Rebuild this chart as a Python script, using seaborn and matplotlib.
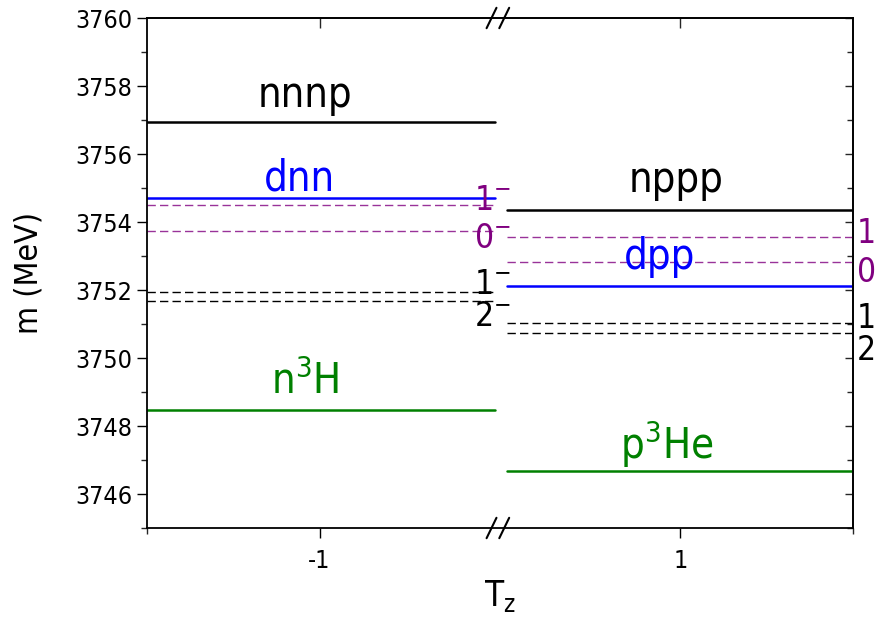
"""
mass levels of the four-nucleon systems, Tz = -1 and Tz = +1
"""
import matplotlib

matplotlib.use("Agg")
import matplotlib.pyplot as plt
import matplotlib.ticker as ticker
import numpy as np
import pandas as pd
import seaborn as sns

# levels (MeV) for each Tz
tz_values = [-1, 1]
state_names_left = ["nnnp", "dnn", "n3H"]
state_mass_left = [3756.94, 3754.70, 3748.48]
state_names_right = ["nppp", "dpp", "p3He"]
state_mass_right = [3754.35, 3752.11, 3746.68]
state_colors = ["black", "#0000ff", "#008000"]

# dashed threshold levels
thr_labels = ["1", "0", "1", "2"]
thr_mass_left = [3754.50, 3753.73, 3751.95, 3751.68]
thr_mass_right = [3753.57, 3752.81, 3751.04, 3750.75]
thr_colors = ["#993399", "#993399", "black", "black"]
thr_text_colors = ["#800080", "#800080", "black", "black"]

y_min, y_max = 3745, 3760

sns.set_theme(style="ticks")
plt.rcParams["font.family"] = ["DejaVu Sans"]
plt.rcParams["font.stretch"] = "condensed"
plt.rcParams["mathtext.fontset"] = "custom"
plt.rcParams["mathtext.rm"] = "DejaVu Sans:stretch=condensed"

HALF = 0.956  # half width of one Tz panel (data units)

# build long-form table of segments
rows = []
for tz, names, masses in [
    (-1, state_names_left, state_mass_left),
    (1, state_names_right, state_mass_right),
]:
    x0, x1 = (tz - HALF, -0.03) if tz < 0 else (0.04, tz + HALF)
    for name, m, c in zip(names, masses, state_colors):
        for x in (x0, x1):
            rows.append(dict(seg=f"{name}", x=x, m=m, kind="state", color=c))
for tz, masses in [(-1, thr_mass_left), (1, thr_mass_right)]:
    x0, x1 = (tz - HALF, -0.03) if tz < 0 else (0.04, tz + HALF)
    for i, (m, c) in enumerate(zip(masses, thr_colors)):
        for x in (x0, x1):
            rows.append(dict(seg=f"thr{tz}_{i}", x=x, m=m, kind="thr", color=c))
df = pd.DataFrame(rows)
palette = dict(zip(df["seg"], df["color"]))

fig = plt.figure(figsize=(8.76, 6.21), dpi=100)
ax = fig.add_axes([147 / 876, 1 - 528 / 621, 706 / 876, 510 / 621])

sns.lineplot(
    data=df,
    x="x",
    y="m",
    hue="seg",
    units="seg",
    estimator=None,
    palette=palette,
    style="kind",
    dashes={"state": "", "thr": (6, 3)},
    size="kind",
    sizes={"state": 1.8, "thr": 1.0},
    legend=False,
    ax=ax,
)

ax.set_xlim(-1 - HALF, 1 + HALF)
ax.set_ylim(y_min, y_max)

# level labels
label_kw = dict(ha="center", va="baseline", fontsize=30)
ax.text(-1.08, 3757.38, "nnnp", color="black", **label_kw)
ax.text(-1.11, 3754.93, "dnn", color="#0000ff", **label_kw)
ax.text(-1.08, 3748.95, r"n$^\mathregular{3}$H", color="#008000", **label_kw)
ax.text(0.975, 3754.87, "nppp", color="black", **label_kw)
ax.text(0.886, 3752.63, "dpp", color="#0000ff", **label_kw)
ax.text(0.925, 3747.03, r"p$^\mathregular{3}$He", color="#008000", **label_kw)

thr_y_left = [3754.62, 3753.50, 3752.17, 3751.23]
thr_y_right = [3753.66, 3752.51, 3751.16, 3750.22]
for lab, yl, yr, c in zip(thr_labels, thr_y_left, thr_y_right, thr_text_colors):
    ax.text(-0.04, yl, lab + r"$^\mathregular{-}$", color=c, fontsize=24,
            ha="center", va="center")
    ax.text(2.03, yr, lab, color=c, fontsize=24, ha="center", va="center",
            clip_on=False)

# axes labels
ax.set_ylabel("m (MeV)", fontsize=23, labelpad=22, color="black")
ax.set_xlabel(r"T$_\mathregular{z}$", fontsize=25, labelpad=4, color="black")

# ticks: left/bottom outward, right/top inward
ax.set_xticks(tz_values)
ax.set_xticklabels([str(t) for t in tz_values])
ax.yaxis.set_major_locator(ticker.MultipleLocator(2))
ax.yaxis.set_minor_locator(ticker.MultipleLocator(1))
ax.xaxis.set_minor_locator(ticker.FixedLocator([-1 - HALF, 1 + HALF]))
ax.tick_params(axis="both", which="major", direction="out", length=7, width=1,
               labelsize=18, colors="black")
ax.tick_params(axis="both", which="minor", direction="out", length=4, width=1)
ax.tick_params(axis="x", which="major", pad=8)

sec_y = ax.secondary_yaxis("right")
sec_y.yaxis.set_major_locator(ticker.MultipleLocator(2))
sec_y.yaxis.set_minor_locator(ticker.MultipleLocator(1))
sec_y.tick_params(which="major", direction="in", length=6, width=1, labelright=False)
sec_y.tick_params(which="minor", direction="in", length=4, width=1)
sec_y.spines["right"].set_linewidth(1.3)

sec_x = ax.secondary_xaxis("top")
sec_x.set_xticks(tz_values)
sec_x.tick_params(which="major", direction="in", length=7, width=1, labeltop=False)
sec_x.spines["top"].set_linewidth(1.3)

for s in ax.spines.values():
    s.set_linewidth(1.3)
    s.set_color("black")

# break marks on the top and bottom axis
for yb in (0.0, 1.0):
    for dx in (-0.012, 0.006):
        ax.plot([0.5 + dx - 0.007, 0.5 + dx + 0.007], [yb - 0.02, yb + 0.02],
                transform=ax.transAxes, color="black", lw=1.5, clip_on=False)

ax.grid(False)
fig.savefig("out.png", dpi=100)
